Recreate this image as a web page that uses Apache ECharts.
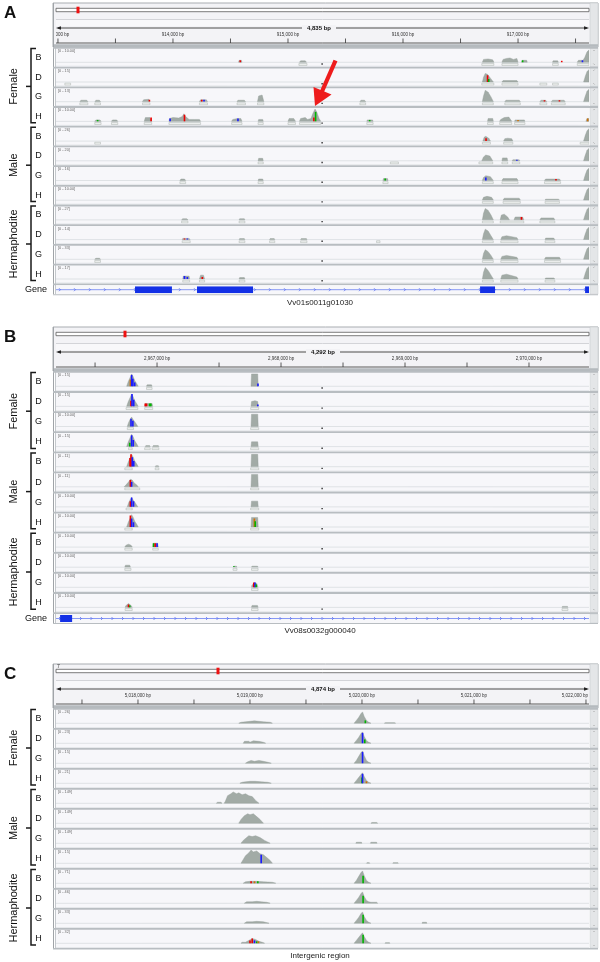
<!DOCTYPE html>
<html><head><meta charset="utf-8">
<script src="https://cdn.jsdelivr.net/npm/echarts@6/dist/echarts.min.js"></script>
<style>html,body{margin:0;padding:0;background:#fff}#c{width:600px;height:962px}</style>
</head><body><div id="c"></div>
<script>
// ---------------- DATA ----------------
const groupNames = ['Female', 'Male', 'Hermaphodite'];
const trackLetters = ['B', 'D', 'G', 'H'];

// Panel A : Vv01s0011g01030
const spanA = '4,835 bp';
const ticksA = [913000, 913500, 914000, 914500, 915000, 915500, 916000, 916500, 917000, 917500];
const labelTicksA = [913000, 914000, 915000, 916000, 917000];
const tickLabelsA = ['913,000 bp', '914,000 bp', '915,000 bp', '916,000 bp', '917,000 bp'];
const rangesA = ['[0 - 10.00]', '[0 - 15]', '[0 - 13]', '[0 - 10.00]', '[0 - 26]', '[0 - 20]', '[0 - 16]', '[0 - 10.00]', '[0 - 27]', '[0 - 14]', '[0 - 33]', '[0 - 17]'];
const exonsA = [[913670, 913991], [914209, 914696], [916670, 916800], [917583, 917617]];
const geneA = 'Vv01s0011g01030';

const covA_FB = [[914570,0],[914575,2],[914595,2],[914600,0],[915100,0],[915110,1.5],[915150,1.5],[915160,0],[916690,0],[916700,3],[916740,3.5],[916780,2.5],[916790,0],[916860,0],[916870,3],[916900,4],[916930,4.5],[916960,3],[916990,4],[917000,0],[917030,0],[917035,2],[917075,2],[917080,0],[917300,0],[917305,1.5],[917345,1.5],[917350,0],[917515,0],[917525,2],[917565,2],[917580,5],[917600,11],[917617,13]];
const covA_FD = [[916690,0],[916700,5],[916715,9],[916735,8],[916760,4],[916785,0],[916860,0],[916870,1.5],[916990,1.5],[917000,0],[917570,0],[917585,6],[917600,11],[917617,13]];
const covA_FG = [[913191,0],[913200,1.5],[913250,1.5],[913260,0],[913322,0],[913330,1.5],[913360,1.5],[913370,0],[913735,0],[913745,2],[913790,2.5],[913800,0],[914230,0],[914240,2],[914290,2],[914300,0],[914557,0],[914565,1.5],[914620,1.5],[914630,0],[914735,0],[914745,6],[914775,7],[914790,0],[915625,0],[915635,1.5],[915665,1.5],[915675,0],[916690,0],[916700,6],[916715,12],[916740,10],[916765,5],[916785,0],[916885,0],[916895,1.5],[917010,1.5],[917020,0],[917190,0],[917200,1.5],[917240,1.5],[917250,0],[917290,0],[917300,1.5],[917400,1.5],[917410,0],[917570,0],[917585,6],[917600,11],[917617,13]];
const covA_FH = [[913320,0],[913330,1.5],[913365,1.5],[913375,0],[913465,0],[913475,1.5],[913510,1.5],[913520,0],[913750,0],[913760,4],[913800,4],[913815,0],[913965,0],[913970,3],[914000,4],[914050,3.5],[914080,5],[914095,8],[914110,5],[914140,2],[914185,2],[914230,2],[914240,0],[914510,0],[914520,2],[914560,3],[914590,3],[914600,0],[914740,0],[914745,2],[914780,2],[914785,0],[915000,0],[915010,3],[915050,3],[915065,0],[915100,0],[915110,3],[915150,4],[915170,2],[915200,3],[915215,8],[915235,13],[915250,10],[915270,3],[915285,0],[915685,0],[915690,1.5],[915735,1.5],[915740,0],[916735,0],[916740,3],[916780,3],[916785,0],[916840,0],[916850,2],[916880,4],[916920,4.5],[916945,0],[916970,0],[916975,1.5],[917055,1.5],[917060,0],[917590,0],[917600,3],[917617,3]];
const covA_MB = [[916695,0],[916705,4],[916720,5],[916745,3],[916760,0],[916875,0],[916885,2.5],[916910,3],[916945,2.5],[916955,0],[917570,0],[917585,6],[917600,11],[917617,13]];
const covA_MD = [[914740,0],[914745,2.5],[914780,2.5],[914785,0],[916685,0],[916700,4],[916720,6],[916755,5],[916780,0],[916860,0],[916865,3],[916905,3],[916910,0],[916950,0],[916955,1],[917010,1],[917015,0],[917570,0],[917585,6],[917600,11],[917617,13]];
const covA_MG = [[914060,0],[914070,1.5],[914100,1.5],[914110,0],[914740,0],[914745,1.5],[914780,1.5],[914785,0],[915825,0],[915830,2],[915865,2],[915870,0],[916690,0],[916700,3],[916720,5],[916760,4],[916785,0],[916860,0],[916870,2],[916990,2],[917000,0],[917230,0],[917240,1.5],[917360,1.5],[917370,0],[917570,0],[917585,6],[917600,11],[917617,13]];
const covA_MH = [[916690,0],[916700,3],[916730,4],[916770,3],[916785,0],[916870,0],[916880,2],[917010,2],[917020,0],[917235,0],[917240,1],[917350,1],[917360,0],[917570,0],[917585,6],[917600,11],[917617,13]];
const covA_HB = [[914075,0],[914085,1.2],[914120,1.2],[914130,0],[914575,0],[914580,1.2],[914620,1.2],[914625,0],[916690,0],[916700,7],[916715,12],[916740,10],[916765,5],[916785,0],[916845,0],[916855,5],[916880,6],[916910,3],[916925,0],[916965,0],[916975,3],[917040,3],[917050,0],[917190,0],[917200,2],[917310,2],[917320,0],[917570,0],[917585,6],[917600,11],[917617,13]];
const covA_HD = [[914080,0],[914085,1.2],[914140,1.2],[914150,0],[914575,0],[914580,1],[914620,1],[914625,0],[914840,0],[914845,1],[914880,1],[914885,0],[915110,0],[915115,1],[915160,1],[915165,0],[916690,0],[916700,6],[916715,11],[916740,9],[916765,4],[916785,0],[916850,0],[916860,3],[916900,4],[916990,2],[917000,0],[917235,0],[917240,1.5],[917310,1.5],[917320,0],[917570,0],[917585,6],[917600,11],[917617,13]];
const covA_HG = [[913320,0],[913330,1],[913360,1],[913370,0],[916690,0],[916700,6],[916715,10],[916740,8],[916765,4],[916785,0],[916850,0],[916860,3],[916900,4],[916990,2],[917000,0],[917230,0],[917240,2],[917360,2],[917370,0],[917570,0],[917585,6],[917600,11],[917617,13]];
const covA_HH = [[914085,0],[914090,3],[914140,3],[914145,0],[914230,0],[914240,4],[914265,4],[914275,0],[914575,0],[914580,1.5],[914620,1.5],[914625,0],[916690,0],[916700,7],[916715,12],[916740,9],[916765,4],[916785,0],[916850,0],[916860,4],[916900,5],[916990,2],[917000,0],[917235,0],[917240,1],[917310,1],[917320,0],[917570,0],[917585,6],[917600,11],[917617,13]];

const snpA_FB = [[914585,2,'T'],[917040,2,'A'],[917380,1.5,'T'],[917560,2,'C']];
const snpA_FD = [[916735,7,'T'],[916745,3,'A']];
const snpA_FG = [[913795,2,'T'],[914250,2,'T'],[914270,2,'C'],[917230,1.5,'T'],[917360,1.5,'T']];
const snpA_FH = [[913345,1.5,'A'],[913810,4,'T'],[913975,3,'C'],[914100,7,'T'],[914565,3,'C'],[915225,4,'T'],[915240,10,'A'],[915710,1.5,'A'],[917000,1.5,'G'],[917605,3,'G']];
const snpA_MB = [[916722,3,'T']];
const snpA_MD = [[916990,1,'C']];
const snpA_MG = [[915845,2,'A'],[916720,3,'C'],[917330,1.5,'T']];
const snpA_MH = [];
const snpA_HB = [[917030,3,'T']];
const snpA_HD = [[914100,1.2,'T'],[914125,1.2,'C']];
const snpA_HG = [];
const snpA_HH = [[914100,3,'C'],[914125,2,'C'],[914255,2,'T']];

const readsA_FB = [[915095,915165],[916685,916790],[916860,917000],[917300,917350],[917515,917617]];
const readsA_FD = [[913060,913110],[916685,916790],[916860,917000],[917190,917250],[917300,917350]];
const readsA_FG = [[913190,913260],[913320,913370],[913735,913800],[914230,914300],[914557,914630],[914735,914790],[915625,915675],[916690,916785],[916885,917020],[917190,917250],[917290,917410]];
const readsA_FH = [[913320,913375],[913465,913520],[913750,913815],[913965,914240],[914510,914600],[914740,914785],[915000,915065],[915100,915285],[915685,915740],[916735,916785],[916840,916945],[916970,917060]];
const readsA_MB = [[913320,913370],[916690,916760],[916875,916955],[917540,917617]];
const readsA_MD = [[914740,914785],[915890,915960],[916660,916780],[916860,916910],[916950,917015]];
const readsA_MG = [[914060,914110],[914740,914785],[915825,915870],[916690,916785],[916860,917000],[917230,917370]];
const readsA_MH = [[916690,916785],[916870,917020],[917235,917360]];
const readsA_HB = [[914075,914130],[914575,914625],[916690,916785],[916845,917050],[917190,917320]];
const readsA_HD = [[914080,914150],[914575,914625],[914840,914885],[915110,915165],[915770,915800],[916690,916785],[916850,917000],[917235,917320]];
const readsA_HG = [[913320,913370],[916690,916785],[916850,917000],[917230,917370]];
const readsA_HH = [[914085,914145],[914230,914275],[914575,914625],[916690,916785],[916850,917000],[917235,917320]];

// Panel B : Vv08s0032g000040
const spanB = '4,292 bp';
const ticksB = [2966500, 2967000, 2967500, 2968000, 2968500, 2969000, 2969500, 2970000];
const labelTicksB = [2967000, 2968000, 2969000, 2970000];
const tickLabelsB = ['2,967,000 bp', '2,968,000 bp', '2,969,000 bp', '2,970,000 bp'];
const rangesB = ['[0 - 15]', '[0 - 15]', '[0 - 10.00]', '[0 - 15]', '[0 - 11]', '[0 - 11]', '[0 - 10.00]', '[0 - 10.00]', '[0 - 10.00]', '[0 - 10.00]', '[0 - 10.00]', '[0 - 10.00]'];
const exonsB = [[2966218, 2966315]];
const geneB = 'Vv08s0032g000040';

const covB_FB = [[2966755,0],[2966768,5],[2966782,9],[2966795,13],[2966808,10],[2966820,6],[2966835,3],[2966848,0],[2966915,0],[2966920,1.5],[2966955,1.5],[2966960,0],[2967758,0],[2967762,13],[2967812,13],[2967816,0]];
const covB_FD = [[2966755,0],[2966768,5],[2966782,9],[2966795,13],[2966808,10],[2966820,6],[2966835,3],[2966848,0],[2966900,0],[2966905,3],[2966960,3],[2966965,0],[2967758,0],[2967762,5],[2967790,6],[2967812,5],[2967816,0]];
const covB_FG = [[2966760,0],[2966770,4],[2966785,8],[2966795,10],[2966808,7],[2966820,5],[2966835,2],[2966845,0],[2967758,0],[2967762,13],[2967812,13],[2967816,0]];
const covB_FH = [[2966755,0],[2966768,5],[2966782,9],[2966795,13],[2966808,10],[2966820,6],[2966835,3],[2966848,0],[2966905,0],[2966910,1],[2966940,1],[2966945,0],[2966965,0],[2966970,1],[2967010,1],[2967015,0],[2967758,0],[2967762,5],[2967812,5],[2967816,0]];
const covB_MB = [[2966755,0],[2966768,5],[2966782,9],[2966795,13],[2966808,10],[2966820,6],[2966835,3],[2966848,0],[2966985,0],[2966990,1],[2967010,1],[2967015,0],[2967758,0],[2967762,13],[2967812,13],[2967816,0]];
const covB_MD = [[2966735,0],[2966750,2],[2966770,5],[2966785,8],[2966800,7],[2966815,4],[2966835,2],[2966848,0],[2967758,0],[2967762,13],[2967812,13],[2967816,0]];
const covB_MG = [[2966760,0],[2966770,4],[2966785,8],[2966795,10],[2966808,7],[2966820,5],[2966835,2],[2966845,0],[2967758,0],[2967762,6],[2967812,6],[2967816,0]];
const covB_MH = [[2966755,0],[2966768,5],[2966782,9],[2966795,13],[2966808,10],[2966820,6],[2966835,3],[2966848,0],[2967758,0],[2967762,10],[2967812,10],[2967816,0]];
const covB_HB = [[2966740,0],[2966750,2],[2966770,3],[2966790,2],[2966800,0],[2966965,0],[2966968,4],[2967005,4],[2967010,0]];
const covB_HD = [[2966740,0],[2966745,2],[2966780,2],[2966785,0],[2967613,0],[2967618,1],[2967640,1],[2967645,0],[2967762,0],[2967766,1],[2967810,1],[2967815,0]];
const covB_HG = [[2967762,0],[2967766,2],[2967785,5],[2967805,4],[2967815,0]];
const covB_HH = [[2966742,0],[2966750,2],[2966770,4],[2966790,2],[2966800,0],[2967762,0],[2967766,2],[2967810,2],[2967815,0],[2970266,0],[2970270,1],[2970310,1],[2970314,0]];

const snpB_FB = [[2966785,7,'G'],[2966795,12,'C'],[2966805,8,'C'],[2966820,4,'C'],[2967814,3,'C']];
const snpB_FD = [[2966790,6,'T'],[2966798,13,'C'],[2966812,7,'C'],[2966905,3,'T'],[2966915,3,'T'],[2966940,3,'A'],[2966950,3,'A'],[2967813,2,'C']];
const snpB_FG = [[2966790,8,'C'],[2966805,6,'C']];
const snpB_FH = [[2966780,4,'A'],[2966795,12,'C'],[2966808,7,'C']];
const snpB_MB = [[2966782,9,'T'],[2966790,13,'T'],[2966800,10,'C'],[2966812,6,'C']];
const snpB_MD = [[2966785,7,'T'],[2966795,5,'C']];
const snpB_MG = [[2966785,6,'T'],[2966795,10,'C'],[2966810,6,'C']];
const snpB_MH = [[2966785,12,'T'],[2966795,9,'C'],[2966810,5,'C'],[2967785,9,'G'],[2967792,6,'A']];
const snpB_HB = [[2966972,4,'A'],[2966985,4,'T'],[2967000,4,'C']];
const snpB_HD = [[2967620,1,'A']];
const snpB_HG = [[2967780,5,'T'],[2967790,5,'C'],[2967800,3,'A']];
const snpB_HH = [[2966770,3,'T'],[2966780,2,'A']];

const readsB_FB = [[2966915,2966960]];
const readsB_FD = [[2966750,2966845],[2966900,2966965],[2967755,2967820]];
const readsB_FG = [[2966760,2966810],[2967755,2967820]];
const readsB_FH = [[2966770,2966800],[2966900,2966945],[2966960,2967015],[2967755,2967820]];
const readsB_MB = [[2966740,2966800],[2966985,2967015],[2967755,2967820]];
const readsB_MD = [[2966740,2966860],[2967755,2967820]];
const readsB_MG = [[2966750,2966800],[2967755,2967820]];
const readsB_MH = [[2966740,2966800],[2967755,2967820]];
const readsB_HB = [[2966740,2966800],[2966965,2967010]];
const readsB_HD = [[2966740,2966790],[2967613,2967645],[2967762,2967815]];
const readsB_HG = [[2967762,2967815]];
const readsB_HH = [[2966742,2966800],[2967762,2967815],[2970266,2970314]];

// Panel C : intergenic region
const spanC = '4,874 bp';
const ticksC = [5017500, 5018000, 5018500, 5019000, 5019500, 5020000, 5020500, 5021000, 5021500, 5022000];
const labelTicksC = [5018000, 5019000, 5020000, 5021000, 5022000];
const tickLabelsC = ['5,018,000 bp', '5,019,000 bp', '5,020,000 bp', '5,021,000 bp', '5,022,000 bp'];
const rangesC = ['[0 - 26]', '[0 - 23]', '[0 - 15]', '[0 - 21]', '[0 - 149]', '[0 - 149]', '[0 - 149]', '[0 - 15]', '[0 - 71]', '[0 - 46]', '[0 - 33]', '[0 - 32]'];
const regionC = 'Intergenic region';

const covC_FB = [[5018900,0],[5018920,1],[5018960,1.5],[5019000,2],[5019040,2.5],[5019080,2],[5019120,1.5],[5019180,1],[5019200,0],[5019930,0],[5019950,3],[5019970,6],[5019990,10],[5020005,12],[5020020,7],[5020040,3],[5020060,1],[5020080,0],[5020200,0],[5020210,0.6],[5020290,0.6],[5020300,0]];
const covC_FD = [[5018940,0],[5018950,2],[5018990,2],[5019000,1],[5019030,2.5],[5019080,2],[5019120,1],[5019140,0],[5019930,0],[5019950,3],[5019970,6],[5019990,10],[5020005,12],[5020020,7],[5020040,3],[5020060,1],[5020080,0]];
const covC_FG = [[5018960,0],[5018980,1.5],[5019010,3],[5019040,2],[5019080,3],[5019120,2],[5019160,1],[5019190,0],[5019930,0],[5019950,3],[5019970,7],[5019990,11],[5020005,13],[5020020,8],[5020040,3],[5020060,1],[5020080,0]];
const covC_FH = [[5018910,0],[5018930,1],[5018960,1.5],[5019000,2],[5019050,2],[5019100,1.5],[5019160,1],[5019190,0],[5019930,0],[5019950,3],[5019970,6],[5019990,9],[5020005,11],[5020020,7],[5020040,3],[5020060,1],[5020080,0]];
const covC_MB = [[5018700,0],[5018710,1],[5018740,1],[5018750,0],[5018770,0],[5018780,2],[5018800,8],[5018830,10],[5018850,12],[5018880,10],[5018900,11],[5018930,9],[5018960,10],[5018990,8],[5019020,7],[5019050,3],[5019080,0]];
const covC_MD = [[5018900,0],[5018920,4],[5018950,8],[5018980,10],[5019000,9],[5019030,10],[5019060,7],[5019090,4],[5019120,0],[5020080,0],[5020090,0.8],[5020130,0.8],[5020140,0]];
const covC_MG = [[5018920,0],[5018940,3],[5018970,6],[5018990,8],[5019020,7],[5019050,8],[5019090,6],[5019130,3],[5019180,0],[5019945,0],[5019950,1],[5019995,1],[5020000,0],[5020075,0],[5020080,1],[5020130,1],[5020135,0]];
const covC_MH = [[5018920,0],[5018940,4],[5018960,8],[5018990,11],[5019010,14],[5019030,12],[5019060,13],[5019090,10],[5019120,9],[5019150,6],[5019180,3],[5019200,0],[5020040,0],[5020045,0.6],[5020065,0.6],[5020070,0],[5020275,0],[5020280,0.6],[5020320,0.6],[5020325,0]];
const covC_HB = [[5018940,0],[5018960,1.5],[5019000,2],[5019060,2],[5019120,1.5],[5019200,1],[5019230,0],[5019930,0],[5019950,3],[5019970,7],[5019990,11],[5020005,13],[5020020,8],[5020040,3],[5020060,1],[5020080,0]];
const covC_HD = [[5018950,0],[5018970,1.5],[5019020,1.5],[5019060,2],[5019100,1.5],[5019150,1],[5019180,0],[5019930,0],[5019950,3],[5019970,6],[5019990,10],[5020005,12],[5020020,7],[5020040,3],[5020060,1.5],[5020080,1],[5020130,1],[5020140,0]];
const covC_HG = [[5018950,0],[5018970,1.5],[5019020,1.5],[5019060,2],[5019120,1.5],[5019170,0],[5019930,0],[5019950,3],[5019970,6],[5019990,10],[5020005,12],[5020020,7],[5020040,3],[5020060,1],[5020080,0],[5020536,0],[5020540,1],[5020575,1],[5020580,0]];
const covC_HH = [[5018920,0],[5018930,1],[5018960,1],[5018990,3],[5019020,5],[5019050,4],[5019080,2],[5019110,1],[5019130,0],[5019930,0],[5019950,3],[5019970,6],[5019990,9],[5020005,11],[5020020,7],[5020040,3],[5020060,1],[5020080,0],[5020205,0],[5020210,0.6],[5020245,0.6],[5020250,0]];

const snpC_FB = [[5020030,3,'A']];
const snpC_FD = [[5020005,11,'C'],[5020025,4,'A']];
const snpC_FG = [[5020005,12,'C']];
const snpC_FH = [[5020000,6,'A'],[5020005,10,'C'],[5020040,2,'G']];
const snpC_MB = [];
const snpC_MD = [];
const snpC_MG = [];
const snpC_MH = [[5019100,9,'C']];
const snpC_HB = [[5019010,2,'T'],[5019040,2,'G'],[5019070,2,'A'],[5020010,8,'A']];
const snpC_HD = [[5020010,8,'A']];
const snpC_HG = [[5020010,9,'A']];
const snpC_HH = [[5019000,3,'T'],[5019020,5,'T'],[5019040,3,'C'],[5019060,2,'A'],[5019075,2,'G'],[5020010,9,'A']];

// ---------------- LAYOUT / STYLE ----------------
const FONT = '"Liberation Sans", Arial, sans-serif';
const PL = 56, PR = 589, FL = 53, FR = 598;
const baseColor = {A: '#00b400', C: '#1a1aff', G: '#d17105', T: '#ee0000'};

const panels = [
  {letter: 'A', y0: 3, tTop: 47, tH: 19.7, min: 912983, max: 917617, ticks: ticksA, lt: labelTicksA, tl: tickLabelsA,
   span: spanA, spanX: 319, redX: 78, ranges: rangesA,
   cov: [covA_FB, covA_FD, covA_FG, covA_FH, covA_MB, covA_MD, covA_MG, covA_MH, covA_HB, covA_HD, covA_HG, covA_HH],
   snp: [snpA_FB, snpA_FD, snpA_FG, snpA_FH, snpA_MB, snpA_MD, snpA_MG, snpA_MH, snpA_HB, snpA_HD, snpA_HG, snpA_HH],
   reads: [readsA_FB, readsA_FD, readsA_FG, readsA_FH, readsA_MB, readsA_MD, readsA_MG, readsA_MH, readsA_HB, readsA_HD, readsA_HG, readsA_HH],
   exons: exonsA, chev: 15, name: geneA, nameY: 303, center: 322},
  {letter: 'B', y0: 327, tTop: 371, tH: 20.1, min: 2966185, max: 2970484, ticks: ticksB, lt: labelTicksB, tl: tickLabelsB,
   span: spanB, spanX: 323, redX: 125, ranges: rangesB,
   cov: [covB_FB, covB_FD, covB_FG, covB_FH, covB_MB, covB_MD, covB_MG, covB_MH, covB_HB, covB_HD, covB_HG, covB_HH],
   snp: [snpB_FB, snpB_FD, snpB_FG, snpB_FH, snpB_MB, snpB_MD, snpB_MG, snpB_MH, snpB_HB, snpB_HD, snpB_HG, snpB_HH],
   reads: [readsB_FB, readsB_FD, readsB_FG, readsB_FH, readsB_MB, readsB_MD, readsB_MG, readsB_MH, readsB_HB, readsB_HD, readsB_HG, readsB_HH],
   exons: exonsB, chev: 10.5, name: geneB, nameY: 631, center: 322},
  {letter: 'C', y0: 664, tTop: 708, tH: 20, min: 5017268, max: 5022027, ticks: ticksC, lt: labelTicksC, tl: tickLabelsC,
   span: spanC, spanX: 323, redX: 218, ranges: rangesC, chrom: '7',
   cov: [covC_FB, covC_FD, covC_FG, covC_FH, covC_MB, covC_MD, covC_MG, covC_MH, covC_HB, covC_HD, covC_HG, covC_HH],
   snp: [snpC_FB, snpC_FD, snpC_FG, snpC_FH, snpC_MB, snpC_MD, snpC_MG, snpC_MH, snpC_HB, snpC_HD, snpC_HG, snpC_HH],
   reads: [[], [], [], [], [], [], [], [], [], [], [], []],
   exons: null, name: regionC, nameY: 956, center: null}
];

// split a coverage profile into its separate peaks (each runs from a zero point to the next zero point)
function splitPeaks(arr) {
  const peaks = []; let cur = [];
  arr.forEach(function (p) {
    cur.push(p);
    if (p[1] === 0 && cur.length > 1) { peaks.push(cur); cur = []; }
  });
  if (cur.length > 1) peaks.push(cur);
  return peaks;
}

const grids = [], xAxes = [], yAxes = [], series = [], gfx = [];
function addGrid(top, height, min, max, ymin, ymax) {
  grids.push({left: PL, width: PR - PL, top: top, height: height, containLabel: false});
  const i = grids.length - 1;
  xAxes.push({type: 'value', gridIndex: i, min: min, max: max, show: false});
  yAxes.push({type: 'value', gridIndex: i, min: ymin, max: ymax, show: false});
  return i;
}
function rect(x, y, w, h, style, z) { gfx.push({type: 'rect', silent: true, z: z || 0, shape: {x: x, y: y, width: w, height: h}, style: style}); }
function line(x1, y1, x2, y2, stroke, lw, z) { gfx.push({type: 'line', silent: true, z: z || 0, shape: {x1: x1, y1: y1, x2: x2, y2: y2}, style: {stroke: stroke, lineWidth: lw}}); }
function txt(x, y, s, font, align, fill, z, extra) {
  gfx.push({type: 'text', silent: true, z: z || 1, x: x, y: y,
    style: Object.assign({text: s, fill: fill || '#111', font: font, align: align || 'left', verticalAlign: 'middle'}, extra || {})});
}

panels.forEach(function (P) {
  const y0 = P.y0;
  txt(4, y0 + 10, P.letter, 'bold 17px ' + FONT);
  // header frame
  rect(FL, y0, FR - FL, 44, {fill: '#f3f3f6', stroke: '#a9adb1', lineWidth: 1});
  rect(PR + 1, y0, FR - PR - 1, 44, {fill: '#e4e6e8', stroke: '#c2c6ca', lineWidth: 0.5});
  if (P.chrom) txt(PL + 1, y0 + 3, P.chrom, '5px ' + FONT, 'left', '#333');
  // ideogram
  rect(PL, y0 + 5.3, PR - PL, 3.4, {fill: '#ffffff', stroke: '#5a5a5a', lineWidth: 0.8});
  rect(P.redX - 1.5, y0 + 3.7, 3, 6.6, {fill: '#ee1111'}, 2);
  line(PL, y0 + 16.5, PR, y0 + 16.5, '#d3d4d8', 1);
  rect(PL, y0 + 17, PR - PL, 6, {fill: '#f8f8fa'});
  // ruler arrow
  line(PL + 2, y0 + 25, PR - 2, y0 + 25, '#222', 0.8);
  gfx.push({type: 'polygon', silent: true, z: 1, shape: {points: [[PL, y0 + 25], [PL + 5, y0 + 23.3], [PL + 5, y0 + 26.7]]}, style: {fill: '#222'}});
  gfx.push({type: 'polygon', silent: true, z: 1, shape: {points: [[PR, y0 + 25], [PR - 5, y0 + 23.3], [PR - 5, y0 + 26.7]]}, style: {fill: '#222'}});
  txt(P.spanX, y0 + 25, P.span, 'bold 6px ' + FONT, 'center', '#111', 2, {backgroundColor: '#f3f3f6', padding: [0, 5]});
  line(PL, y0 + 40, PR, y0 + 40, '#333', 0.8);
  rect(FL, y0 + 41.2, FR - FL, 2.8, {fill: '#b5babe'});

  // ruler ticks and labels through the axis scale
  const hg = addGrid(y0 + 28, 12, P.min, P.max, 0, 1);
  series.push({type: 'custom', xAxisIndex: hg, yAxisIndex: hg, silent: true, clip: true, animation: false,
    data: P.ticks.map(function (v) { return [v]; }), encode: {x: 0},
    renderItem: function (params, api) {
      const c = api.coord([api.value(0), 0]);
      return {type: 'line', shape: {x1: c[0], y1: c[1] - 4.5, x2: c[0], y2: c[1]}, style: {stroke: '#333', lineWidth: 0.8}};
    }});
  const labs = P.tl;
  series.push({type: 'custom', xAxisIndex: hg, yAxisIndex: hg, silent: true, clip: true, animation: false,
    data: P.lt.map(function (v) { return [v]; }), encode: {x: 0},
    renderItem: function (params, api) {
      const c = api.coord([api.value(0), 0]);
      let x = c[0], al = 'center';
      if (x > PR - 14) { x = PR - 1; al = 'right'; }
      return {type: 'text', x: x, y: c[1] - 8.5, style: {text: labs[params.dataIndex], fill: '#333', font: '4.5px ' + FONT, align: al, verticalAlign: 'middle'}};
    }});

  const bottom = P.tTop + 12 * P.tH + (P.exons ? 10.8 : 0);
  line(FL + 0.5, y0, FL + 0.5, bottom, '#a0a4a8', 1);
  line(FL + 2.5, y0 + 44, FL + 2.5, bottom, '#c4c8cc', 1);

  // tracks
  for (let i = 0; i < 12; i++) {
    const T = P.tTop + i * P.tH;
    rect(FL + 3, T, PR - FL - 3, P.tH, {fill: '#f7f7fa'});
    rect(PR + 1, T, FR - PR - 1, P.tH, {fill: '#e4e6e8', stroke: '#c8ccd0', lineWidth: 0.5});
    line(PR + 4.5, T + 4, PR + 5.5, T + 3, '#777', 0.6);
    line(PR + 4.5, T + P.tH - 3, PR + 5.5, T + P.tH - 2, '#777', 0.6);
    rect(FL, T, FR - FL, 1.8, {fill: '#b8bdc1'});
    line(PL, T + 15.3, PR, T + 15.3, '#cfd3d6', 0.6);
    line(PL, T + P.tH - 0.5, PR, T + P.tH - 0.5, '#dadde0', 0.6);
    txt(PL + 2, T + 4.2, P.ranges[i], '3.8px ' + FONT, 'left', '#666');
    if (P.center) rect(P.center - 0.5, T + 16.3, 1.2, 1.4, {fill: '#111'}, 3);

    const g = addGrid(T + 2, 17, P.min, P.max, -4, 14);
    const peaks = splitPeaks(P.cov[i]);
    series.push({type: 'custom', xAxisIndex: g, yAxisIndex: g, silent: true, clip: true, animation: false, z: 2,
      data: peaks.map(function (pk) { return [pk[0][0], pk[pk.length - 1][0]]; }), encode: {x: [0, 1]},
      renderItem: function (params, api) {
        const pk = peaks[params.dataIndex];
        const pts = pk.map(function (p) { return api.coord([p[0], p[1]]); });
        pts.unshift(api.coord([pk[0][0], 0]));
        pts.push(api.coord([pk[pk.length - 1][0], 0]));
        return {type: 'polygon', shape: {points: pts}, style: {fill: '#a2aba6', stroke: '#939d98', lineWidth: 0.4}};
      }});
    const rd = P.reads[i];
    if (rd.length) series.push({type: 'custom', xAxisIndex: g, yAxisIndex: g, silent: true, clip: true, animation: false,
      data: rd, encode: {x: [0, 1]}, z: 2,
      renderItem: function (params, api) {
        const a = api.coord([api.value(0), -1.3]);
        const b = api.coord([api.value(1), -3.4]);
        return {type: 'rect', shape: {x: a[0], y: a[1], width: Math.max(1, b[0] - a[0]), height: b[1] - a[1]},
          style: {fill: '#eef0ef', stroke: '#b6bcb8', lineWidth: 0.6}};
      }});
    const sn = P.snp[i];
    if (sn.length) series.push({type: 'custom', xAxisIndex: g, yAxisIndex: g, silent: true, clip: true, animation: false,
      data: sn.map(function (d) { return [d[0], d[1]]; }), encode: {x: 0, y: 1}, z: 3,
      renderItem: function (params, api) {
        const t = api.coord([api.value(0), api.value(1)]);
        const b = api.coord([api.value(0), 0]);
        return {type: 'rect', shape: {x: t[0] - 0.8, y: t[1], width: 1.6, height: b[1] - t[1]},
          style: {fill: baseColor[sn[params.dataIndex][2]]}};
      }});
  }
  const endT = P.tTop + 12 * P.tH;

  // left labels and brackets
  for (let gi = 0; gi < 3; gi++) {
    const top = P.tTop + gi * 4 * P.tH;
    const bot = top + 4 * P.tH;
    const mid = (top + bot) / 2;
    gfx.push({type: 'polyline', silent: true, shape: {points: [[36, top + 1.5], [31, top + 1.5], [31, bot - 3], [36, bot - 3]]}, style: {stroke: '#1a1a1a', lineWidth: 1.5, fill: null}});
    line(26, mid, 31, mid, '#1a1a1a', 1.5);
    gfx.push({type: 'text', silent: true, x: 14, y: mid, rotation: Math.PI / 2,
      style: {text: groupNames[gi], fill: '#111', font: '11px ' + FONT, align: 'center', verticalAlign: 'middle'}});
    for (let k = 0; k < 4; k++) {
      const T = P.tTop + (gi * 4 + k) * P.tH;
      txt(38.5, T + P.tH / 2 + 0.5, trackLetters[k], '9px ' + FONT, 'center');
    }
  }

  // gene row
  if (P.exons) {
    const gt = endT;
    rect(FL, gt, FR - FL, 1.8, {fill: '#b8bdc1'});
    rect(FL + 3, gt + 1.8, PR - FL - 3, 9, {fill: '#f7f7fa'});
    rect(PR + 1, gt + 1.8, FR - PR - 1, 9, {fill: '#e4e6e8', stroke: '#c8ccd0', lineWidth: 0.5});
    txt(47, gt + 6.5, 'Gene', '9px ' + FONT, 'right');
    const yl = gt + 6.3;
    line(PL, yl, PR, yl, '#6a7ff2', 0.8, 1);
    for (let x = PL + 4; x < PR; x += P.chev) {
      gfx.push({type: 'polyline', silent: true, z: 1, shape: {points: [[x - 1, yl - 1.5], [x + 0.5, yl], [x - 1, yl + 1.5]]}, style: {stroke: '#4a63ee', lineWidth: 0.7, fill: null}});
    }
    const eg = addGrid(gt + 2.8, 7, P.min, P.max, 0, 1);
    series.push({type: 'custom', xAxisIndex: eg, yAxisIndex: eg, silent: true, clip: true, animation: false,
      data: P.exons, encode: {x: [0, 1]}, z: 3,
      renderItem: function (params, api) {
        const a = api.coord([api.value(0), 1]);
        const b = api.coord([api.value(1), 0]);
        return {type: 'rect', shape: {x: a[0], y: a[1], width: b[0] - a[0], height: b[1] - a[1]}, style: {fill: '#1330e6'}};
      }});
    rect(FL, gt + 10.8, FR - FL, 1, {fill: '#b8bdc1'});
  } else {
    rect(FL, endT, FR - FL, 1.5, {fill: '#b8bdc1'});
  }
  txt(320, P.nameY, P.name, '8px ' + FONT, 'center', '#222');
});

// red arrow pointing at the Female H peak in panel A
gfx.push({type: 'line', silent: true, z: 50, shape: {x1: 335.5, y1: 60.5, x2: 322, y2: 91.5}, style: {stroke: '#ee1c1c', lineWidth: 4.2, lineCap: 'butt'}});
gfx.push({type: 'polygon', silent: true, z: 50, shape: {points: [[315, 106], [313.5, 87], [331.5, 94.5]]}, style: {fill: '#ee1c1c'}});

const chart = echarts.init(document.getElementById('c'), null, {renderer: 'canvas'});
chart.setOption({
  animation: false,
  backgroundColor: '#ffffff',
  grid: grids, xAxis: xAxes, yAxis: yAxes, series: series,
  graphic: {elements: gfx}
});
</script></body></html>
